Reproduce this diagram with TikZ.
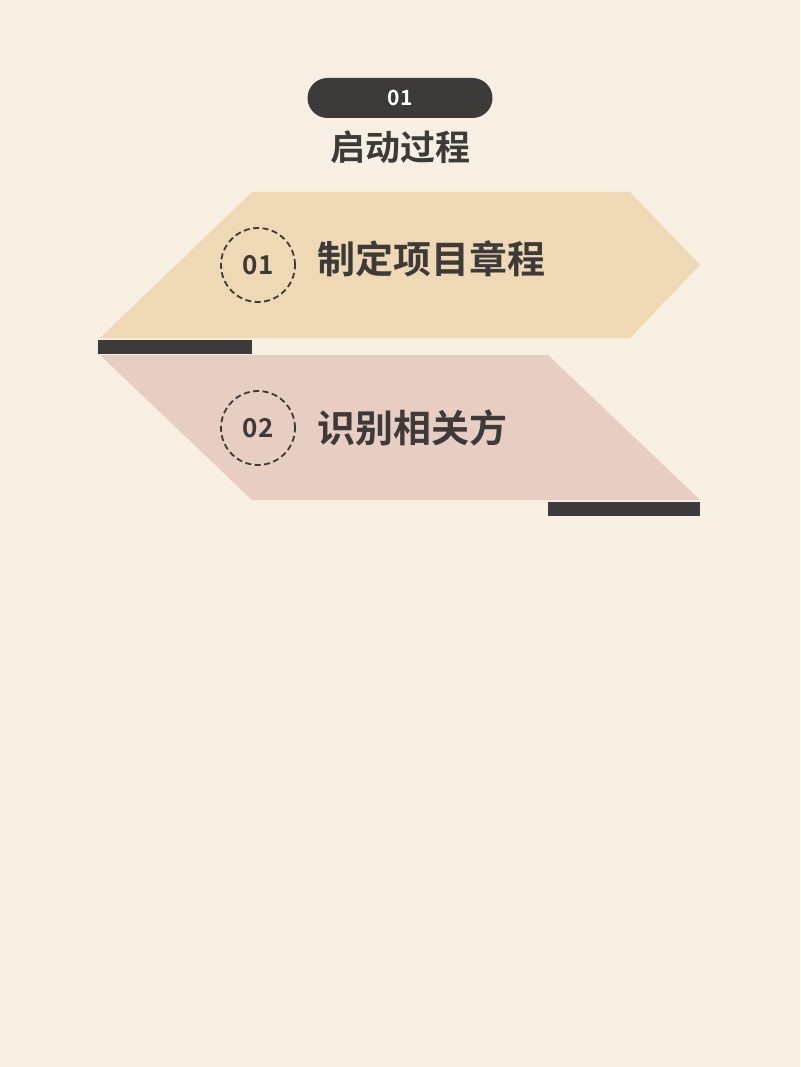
\documentclass[tikz,border=0pt]{standalone}
\usepackage{fontspec}
\setmainfont{Noto Sans CJK SC}[BoldFont={Noto Sans CJK SC Bold}]
\usetikzlibrary{positioning}
\definecolor{bg}{HTML}{F7EFE2}
\definecolor{ink}{HTML}{3C3B39}
\definecolor{sand}{HTML}{EFD8B4}
\definecolor{rose}{HTML}{E8CDC2}

\begin{document}
\begin{tikzpicture}[x=1pt, y=-1pt,
  num/.style = {circle, draw=ink, dash pattern=on 6pt off 3.5pt, line width=1.8pt,
    minimum size=74pt, inner sep=0pt, text=ink,
    font=\bfseries\fontsize{26}{26}\selectfont},
  title/.style = {anchor=west, text=ink, inner sep=0pt,
    font=\bfseries\fontsize{38}{38}\selectfont},
  bar/.style = {fill=ink}]
  \fill[bg] (0,0) rectangle (800,1067);
  \node[fill=ink, rounded corners=20pt, minimum width=185pt, minimum height=40pt,
    text=white, font=\bfseries\fontsize{21}{21}\selectfont] (badge) at (400,98) {01};
  \node[below=12pt of badge, text=ink, inner sep=0pt,
    font=\bfseries\fontsize{35}{35}\selectfont] (phase) {启动过程};
  \fill[sand] (252,192) -- (630,192) -- (700,265) -- (630,338) -- (100,338) -- cycle;
  \fill[bar] (98,340) rectangle (252,354);
  \fill[rose] (100,355) -- (548,355) -- (700,500) -- (252,500) -- cycle;
  \fill[bar] (548,502) rectangle (700,516);
  \node[num] (n1) at (258,265) {01};
  \node[title] (t1) at (317,259) {制定项目章程};
  \node[num] (n2) at (258,428) {02};
  \node[title] (t2) at (317,428) {识别相关方};
\end{tikzpicture}
\end{document}
